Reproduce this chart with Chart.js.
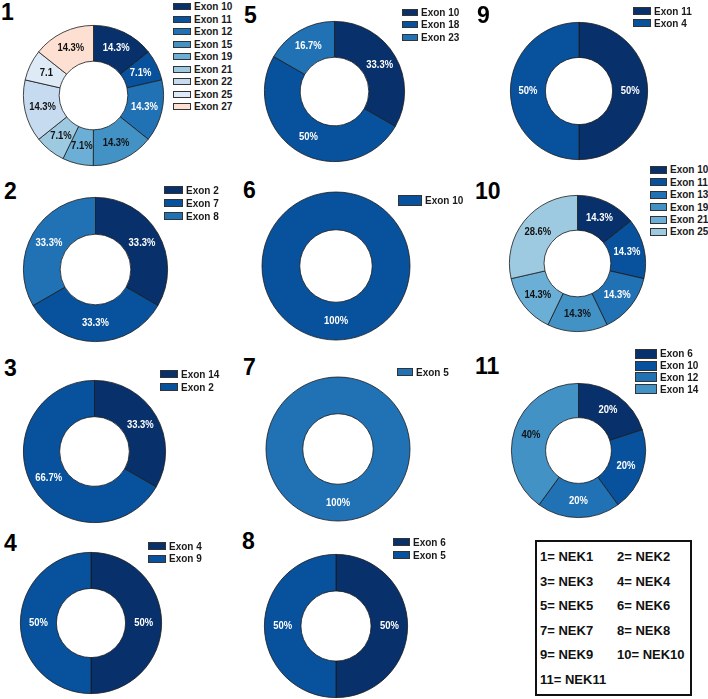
<!doctype html>
<html lang="en">
<head>
	<meta charset="utf-8">
	<title>NEK exon distribution</title>
	<style>
		body {
			margin: 0;
			background: #fff;
		}

		#fig {
			position: relative;
			width: 708px;
			height: 699px;
			font-family: "Liberation Sans", Arial, sans-serif;
		}

		.num {
			position: absolute;
			font-weight: bold;
			font-size: 23px;
			line-height: 23px;
			color: #000;
		}

		.leg {
			position: absolute;
			font-size: 10px;
			font-weight: bold;
			color: #1a1a1a;
		}

		.leg .row {
			display: flex;
			align-items: center;
			white-space: nowrap;
		}

		.leg .box {
			display: inline-block;
			box-sizing: border-box;
			border: 1px solid #333;
			margin-right: 3px;
		}

		canvas.donut {
			position: absolute;
		}

		#key {
			position: absolute;
			left: 535px;
			top: 540px;
			width: 157px;
			height: 156px;
			box-sizing: border-box;
			border: 2px solid #111;
		}

		.keyItem {
			position: absolute;
			font-size: 13px;
			font-weight: bold;
			line-height: 14px;
			color: #111;
			white-space: nowrap;
		}
	</style>
</head>
<body>
	<div id="fig"></div>

	<script src="https://cdn.jsdelivr.net/npm/chart.js"></script>
	<script>
		/*===== data =====*/
		const p1Labels = ['Exon 10', 'Exon 11', 'Exon 12', 'Exon 15', 'Exon 19', 'Exon 21', 'Exon 22', 'Exon 25', 'Exon 27'];
		const p1Values = [14.3, 7.1, 14.3, 14.3, 7.1, 7.1, 14.3, 7.1, 14.3];
		const p1Text = ['14.3%', '7.1%', '14.3%', '14.3%', '7.1%', '7.1%', '14.3%', '7.1', '14.3%'];

		const p2Labels = ['Exon 2', 'Exon 7', 'Exon 8'];
		const p2Values = [33.3, 33.3, 33.3];

		const p3Labels = ['Exon 14', 'Exon 2'];
		const p3Values = [33.3, 66.7];

		const p4Labels = ['Exon 4', 'Exon 9'];
		const p4Values = [50, 50];

		const p5Labels = ['Exon 10', 'Exon 18', 'Exon 23'];
		const p5Values = [33.3, 50, 16.7];

		const p6Labels = ['Exon 10'];
		const p6Values = [100];

		const p7Labels = ['Exon 5'];
		const p7Values = [100];

		const p8Labels = ['Exon 6', 'Exon 5'];
		const p8Values = [50, 50];

		const p9Labels = ['Exon 11', 'Exon 4'];
		const p9Values = [50, 50];

		const p10Labels = ['Exon 10', 'Exon 11', 'Exon 13', 'Exon 19', 'Exon 21', 'Exon 25'];
		const p10Values = [14.3, 14.3, 14.3, 14.3, 14.3, 28.6];

		const p11Labels = ['Exon 6', 'Exon 10', 'Exon 12', 'Exon 14'];
		const p11Values = [20, 20, 20, 40];

		const keyNums = ['1', '2', '3', '4', '5', '6', '7', '8', '9', '10', '11'];
		const keyNames = ['NEK1', 'NEK2', 'NEK3', 'NEK4', 'NEK5', 'NEK6', 'NEK7', 'NEK8', 'NEK9', 'NEK10', 'NEK11'];
		/*===== end data =====*/

		const blues = ['#08306b', '#08519c', '#2171b5', '#4292c6', '#6baed6', '#9ecae1', '#c6dbef', '#deebf7', '#fde0d2'];
		const edge = '#1b1b1b';

		// layout of each panel (centre, radius, number and legend spots)
		const panels = [
			{ n: '1', labels: p1Labels, values: p1Values, text: p1Text, colors: blues, cx: 93.5, cy: 95.5, r: 70.5, nx: 1, ny: 1, lx: 173, ly: 6.5, bw: 18, bh: 7, rh: 12.5 },
			{ n: '5', labels: p5Labels, values: p5Values, colors: blues, cx: 334, cy: 91.5, r: 70.5, nx: 244, ny: 4, lx: 402, ly: 12, bw: 16, bh: 7, rh: 12.5 },
			{ n: '9', labels: p9Labels, values: p9Values, colors: blues, cx: 579, cy: 91, r: 69, nx: 477, ny: 4, lx: 633, ly: 11, bw: 18, bh: 8, rh: 12 },
			{ n: '2', labels: p2Labels, values: p2Values, colors: blues, cx: 95.5, cy: 269, r: 72.5, nx: 4, ny: 180, lx: 164, ly: 190, bw: 19, bh: 8, rh: 13 },
			{ n: '6', labels: p6Labels, values: p6Values, colors: ['#08519c'], cx: 335.5, cy: 265.5, r: 74, nx: 243, ny: 179, lx: 398, ly: 200, bw: 24, bh: 11, rh: 13 },
			{ n: '10', labels: p10Labels, values: p10Values, colors: blues, cx: 577, cy: 263.5, r: 68.5, nx: 475, ny: 180, lx: 650, ly: 170, bw: 17, bh: 8, rh: 12.4 },
			{ n: '3', labels: p3Labels, values: p3Values, colors: blues, cx: 94.5, cy: 451, r: 71.5, nx: 4, ny: 357, lx: 160, ly: 374, bw: 18, bh: 8, rh: 13 },
			{ n: '7', labels: p7Labels, values: p7Values, colors: ['#2171b5'], cx: 337.5, cy: 448.5, r: 72, nx: 243, ny: 356, lx: 397, ly: 372, bw: 16, bh: 8, rh: 13 },
			{ n: '11', labels: p11Labels, values: p11Values, colors: blues, cx: 578.5, cy: 450, r: 67.7, nx: 475, ny: 355, lx: 635, ly: 354, bw: 22, bh: 10, rh: 11.7 },
			{ n: '4', labels: p4Labels, values: p4Values, colors: blues, cx: 90.5, cy: 623, r: 71, nx: 4, ny: 532, lx: 148, ly: 546, bw: 18, bh: 8, rh: 12.5 },
			{ n: '8', labels: p8Labels, values: p8Values, colors: blues, cx: 336, cy: 625.5, r: 72, nx: 242, ny: 530, lx: 393, ly: 542, bw: 17, bh: 8, rh: 13 }
		];

		function isDark(hex) {
			const v = parseInt(hex.slice(1), 16);
			const r = (v >> 16 & 255) / 255, g = (v >> 8 & 255) / 255, b = (v & 255) / 255;
			return 0.2126 * r + 0.7152 * g + 0.0722 * b < 0.5;
		}

		// percentage text in the middle of each slice (+ ring outline when only one slice)
		const sliceText = {
			id: 'sliceText',
			afterDatasetsDraw(chart, args, opts) {
				const { ctx } = chart;
				const ds = chart.data.datasets[0];
				const meta = chart.getDatasetMeta(0);
				ctx.save();
				if (meta.data.length === 1) {
					const a = meta.data[0];
					ctx.strokeStyle = edge;
					ctx.lineWidth = 0.8;
					ctx.beginPath();
					ctx.arc(a.x, a.y, a.outerRadius, 0, Math.PI * 2);
					ctx.stroke();
					ctx.beginPath();
					ctx.arc(a.x, a.y, a.innerRadius, 0, Math.PI * 2);
					ctx.stroke();
				}
				ctx.font = 'bold 11px "Liberation Sans", Arial, sans-serif';
				ctx.textAlign = 'center';
				ctx.textBaseline = 'middle';
				meta.data.forEach((arc, i) => {
					const p = arc.tooltipPosition();
					ctx.fillStyle = isDark(ds.backgroundColor[i]) ? '#ffffff' : '#111111';
					ctx.save();
					ctx.translate(p.x, p.y);
					ctx.scale(0.86, 1);
					ctx.fillText(opts.text[i], 0, 0);
					ctx.restore();
				});
				ctx.restore();
			}
		};

		const fig = document.getElementById('fig');

		panels.forEach(p => {
			// panel number
			const num = document.createElement('div');
			num.className = 'num';
			num.style.left = p.nx + 'px';
			num.style.top = p.ny + 'px';
			num.textContent = p.n;
			fig.appendChild(num);

			// doughnut
			const size = Math.round(2 * p.r + 6);
			const cv = document.createElement('canvas');
			cv.className = 'donut';
			cv.width = size;
			cv.height = size;
			cv.style.left = (p.cx - size / 2) + 'px';
			cv.style.top = (p.cy - size / 2) + 'px';
			fig.appendChild(cv);

			const colors = p.colors.slice(0, p.values.length);
			new Chart(cv, {
				type: 'doughnut',
				data: {
					labels: p.labels,
					datasets: [{
						data: p.values,
						backgroundColor: colors,
						borderColor: edge,
						borderWidth: p.values.length > 1 ? 0.8 : 0
					}]
				},
				options: {
					responsive: false,
					animation: false,
					cutout: '49%',
					layout: { padding: 3 },
					plugins: {
						legend: { display: false },
						tooltip: { enabled: false },
						sliceText: { text: p.text || p.values.map(v => v + '%') }
					}
				},
				plugins: [sliceText]
			});

			// legend
			const leg = document.createElement('div');
			leg.className = 'leg';
			leg.style.left = p.lx + 'px';
			leg.style.top = (p.ly - p.rh / 2) + 'px';
			p.labels.forEach((lab, i) => {
				const row = document.createElement('div');
				row.className = 'row';
				row.style.height = p.rh + 'px';
				const box = document.createElement('span');
				box.className = 'box';
				box.style.width = p.bw + 'px';
				box.style.height = p.bh + 'px';
				box.style.background = colors[i];
				row.appendChild(box);
				row.appendChild(document.createTextNode(lab));
				leg.appendChild(row);
			});
			fig.appendChild(leg);
		});

		// NEK key box
		const key = document.createElement('div');
		key.id = 'key';
		fig.appendChild(key);
		keyNums.forEach((k, i) => {
			const item = document.createElement('div');
			item.className = 'keyItem';
			item.style.left = ((i % 2) ? 617 : 540) + 'px';
			item.style.top = (557 + Math.floor(i / 2) * 24.6 - 7) + 'px';
			item.textContent = k + '= ' + keyNames[i];
			fig.appendChild(item);
		});
	</script>
</body>
</html>
